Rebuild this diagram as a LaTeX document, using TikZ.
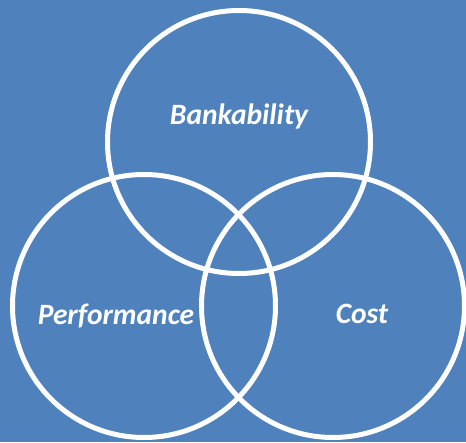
\documentclass[tikz,border=0pt]{standalone}
\usepackage{fontspec}
\setmainfont{Carlito}
\usepackage{tikz}
\usetikzlibrary{positioning}
\definecolor{bgblue}{HTML}{4F81BD}

\begin{document}
\begin{tikzpicture}[x=1pt, y=1pt]
	\fill[bgblue] (0,0) rectangle (466,442);
	\useasboundingbox (0,0) rectangle (466,442);

	\begin{scope}[every node/.style={circle, draw=white, line width=5pt,
	              minimum size=263pt, inner sep=0pt}]
		\node (bank) at (239,300) {};
		\node (perf) at (144,136) {};
		\node (cost) at (333,136) {};
	\end{scope}

	\begin{scope}[every node/.style={text=white, anchor=base,
	              font=\fontsize{29.5}{31}\selectfont\bfseries\itshape}]
		\node (banklabel) at (239,317) {Bankability};
		\node (perflabel) at (116,117) {Performance};
		\node (costlabel) at (362,118) {Cost};
	\end{scope}
\end{tikzpicture}
\end{document}
